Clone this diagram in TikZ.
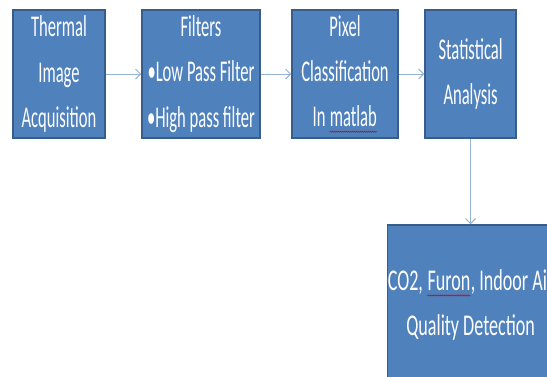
\documentclass[tikz,border=0pt]{standalone}
\usepackage{fontspec}
\setmainfont{Carlito}[FakeStretch=0.55]
\newfontfamily\detfont{Carlito}[FakeStretch=0.6]
\usetikzlibrary{positioning, arrows.meta, decorations.pathmorphing}
\definecolor{boxblue}{HTML}{4F81BD}
\definecolor{boxedge}{HTML}{385D8A}
\definecolor{flowblue}{HTML}{95B3D7}

% red wavy spell-check mark under a word
\newcommand{\spellerr}[1]{\tikz[baseline=(w.base)]{%
    \node[inner sep=0pt, minimum width=0pt, minimum height=0pt, draw=none, fill=none] (w) {#1};
    \draw[red!85!black, line width=0.5pt, decorate,
          decoration={snake, amplitude=0.6pt, segment length=2pt}]
        ([yshift=-5pt]w.base west) -- ([yshift=-5pt]w.base east);}}

\begin{document}
\begin{tikzpicture}[
                stepbox/.style={draw=boxedge, line width=1.5pt, fill=boxblue,
                    minimum height=4.48cm, inner sep=0pt,
                    align=center, text=white, font=\fontsize{30}{45}\selectfont},
                flow/.style={-{Straight Barb[length=5pt, width=10pt]},
                    draw=flowblue, line width=1pt}
            ]

            \useasboundingbox (0, 0) rectangle (19.145, -13.16);
            \clip (0, 0) rectangle (19.145, -13.16);

            % top row
            \node[stepbox, minimum width=3.22cm] (acq) at (2.065, -2.59)
                {Thermal\\ Image\\ Acquisition};
            \node[stepbox, minimum width=4.13cm] (filt) at (7.035, -2.59)
                {Filters\\ •Low Pass Filter\\ •High pass filter};
            \node[stepbox, minimum width=3.71cm] (pix) at (12.075, -2.59)
                {Pixel\\ Classification\\ In \spellerr{matlab}};
            \node[stepbox, minimum width=3.185cm] (stat) at (16.47, -2.59)
                {Statistical\\ Analysis};

            % detection box, cut by the right edge
            \node[stepbox, minimum width=5.81cm, minimum height=5.6cm,
                  font=\detfont\fontsize{30}{45}\selectfont] (det) at (16.47, -10.675)
                {CO2, \spellerr{Furon}, Indoor Air\\ Quality Detection};

            % connectors
            \draw[flow] (acq) -- (filt);
            \draw[flow] (filt) -- (pix);
            \draw[flow] (pix) -- (stat);
            \draw[flow] (stat) -- (det);

            \end{tikzpicture}
\end{document}
